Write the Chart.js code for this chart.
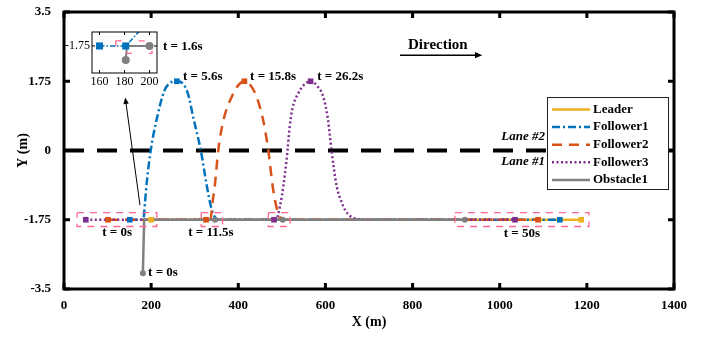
<!DOCTYPE html>
<html>
<head>
<meta charset="utf-8">
<script src="https://cdn.jsdelivr.net/npm/chart.js@4.4.1/dist/chart.umd.min.js"></script>
<style>
html, body { margin: 0; padding: 0; background: #fff; }
#wrap { position: relative; width: 707px; height: 337px; }
#main { position: absolute; left: 0; top: 0; }
#inset { position: absolute; left: 62px; top: 26px; }
</style>
</head>
<body>
<div id="wrap">
  <canvas id="main" width="707" height="337"></canvas>
  <canvas id="inset" width="100" height="62"></canvas>
</div>
<script>
const xTicks = [0, 200, 400, 600, 800, 1000, 1200, 1400];
const yTicks = [-3.5, -1.75, 0, 1.75, 3.5];

// trajectories (m)
const leaderX = [200, 1187];
const leaderY = [-1.75, -1.75];
const follower1X = [151, 182, 186, 190, 199, 213, 230, 245, 259, 272, 284, 298, 314, 328, 338, 346, 356, 1138];
const follower1Y = [-1.75, -1.75, -1.3, -0.8, 0, 0.8, 1.5, 1.72, 1.75, 1.7, 1.45, 0.77, 0, -0.91, -1.45, -1.68, -1.75, -1.75];
const follower2X = [101, 336, 341, 346, 354, 366, 385, 398, 414, 428, 442, 457, 469, 479, 487, 494, 503, 1088];
const follower2Y = [-1.75, -1.75, -1.3, -0.9, 0, 0.77, 1.36, 1.62, 1.75, 1.65, 1.36, 0.77, 0, -0.91, -1.4, -1.65, -1.75, -1.75];
const follower3X = [50, 488, 492, 500, 507, 513, 518, 524, 538, 550, 566, 582, 595, 606, 614, 626, 637, 645, 656, 670, 690, 1035];
const follower3Y = [-1.75, -1.75, -1.59, -1.15, -0.6, 0, 0.6, 1.05, 1.45, 1.65, 1.75, 1.62, 1.36, 0.77, 0, -0.91, -1.3, -1.5, -1.65, -1.72, -1.75, -1.75];
const obstacleX = [181, 184, 920];
const obstacleY = [-3.1, -1.75, -1.75];
const laneX = [0, 1400];
const laneY = [0, 0];

// snapshot markers
const leaderSnapX = [200, 1187];
const leaderSnapY = [-1.75, -1.75];
const follower1SnapX = [151, 259, 1138];
const follower1SnapY = [-1.75, 1.75, -1.75];
const follower2SnapX = [101, 326, 414, 1088];
const follower2SnapY = [-1.75, -1.75, 1.75, -1.75];
const follower3SnapX = [50, 482, 566, 1035];
const follower3SnapY = [-1.75, -1.75, 1.75, -1.75];
const obstacleSnapX = [181, 347, 502, 920];
const obstacleSnapY = [-3.1, -1.75, -1.75, -1.75];

// highlight boxes
const boxLeft = [30, 315, 469, 897];
const boxRight = [213, 364, 519, 1205];
const boxTop = [-1.57, -1.57, -1.57, -1.57];
const boxBottom = [-1.92, -1.92, -1.92, -1.92];

// inset (t = 1.6s)
const insetXTicks = [160, 180, 200];
const insetYTicks = [-1.75];
const insetBlueX = [160, 181, 194];
const insetBlueY = [-1.75, -1.75, -1.56];
const insetGrayX = [181, 182, 200];
const insetGrayY = [-1.9, -1.75, -1.75];
const insetSquareX = [160, 181];
const insetSquareY = [-1.75, -1.75];
const insetCircleX = [181, 200];
const insetCircleY = [-1.9, -1.75];
const insetBoxX = [173, 202];
const insetBoxY = [-1.695, -1.83];

const C_LEADER = '#EDB120', C_F1 = '#0072BD', C_F2 = '#D95319', C_F3 = '#7E2F8E', C_OBS = '#808080';
const C_BOX = 'rgb(255,105,140)';
const SERIF = '"Liberation Serif", "Times New Roman", serif';

const pts = (xs, ys) => xs.map((x, i) => ({ x: x, y: ys[i] }));
const rect = (l, r, t, b) => [{ x: l, y: t }, { x: r, y: t }, { x: r, y: b }, { x: l, y: b }, { x: l, y: t }];

function trace(label, xs, ys, color, dash, order, smooth) {
    return {
        label: label, legend: true,
        data: pts(xs, ys),
        borderColor: color, borderWidth: 2.5, borderDash: dash,
        pointRadius: 0, fill: false, order: order,
        cubicInterpolationMode: smooth ? 'monotone' : 'default', tension: 0
    };
}
function snaps(xs, ys, color, style, r) {
    return {
        data: pts(xs, ys), showLine: false,
        pointStyle: style, pointRadius: r, pointBackgroundColor: color, pointBorderColor: color,
        pointBorderWidth: 0, order: 0
    };
}

const mainDatasets = [
    { data: pts(laneX, laneY), borderColor: '#000', borderWidth: 4, borderDash: [20, 13], pointRadius: 0, order: 20 },
    trace('Leader', leaderX, leaderY, C_LEADER, [], 10, false),
    trace('Follower1', follower1X, follower1Y, C_F1, [8, 3, 2, 3], 9, true),
    trace('Follower2', follower2X, follower2Y, C_F2, [10, 7], 8, true),
    trace('Follower3', follower3X, follower3Y, C_F3, [2, 2.5], 7, true),
    trace('Obstacle1', obstacleX, obstacleY, C_OBS, [], 6, false)
];
boxLeft.forEach((l, i) => {
    mainDatasets.push({
        data: rect(l, boxRight[i], boxTop[i], boxBottom[i]),
        borderColor: C_BOX, borderWidth: 1.3, borderDash: [7, 6], pointRadius: 0, order: 5
    });
});
mainDatasets.push(
    snaps(leaderSnapX, leaderSnapY, C_LEADER, 'rect', 4),
    snaps(follower1SnapX, follower1SnapY, C_F1, 'rect', 4),
    snaps(follower2SnapX, follower2SnapY, C_F2, 'rect', 4),
    snaps(follower3SnapX, follower3SnapY, C_F3, 'rect', 4),
    snaps(obstacleSnapX, obstacleSnapY, C_OBS, 'circle', 3)
);

function arrow(ctx, x1, y1, x2, y2, head, width) {
    const ang = Math.atan2(y2 - y1, x2 - x1);
    ctx.beginPath();
    ctx.lineWidth = width;
    ctx.moveTo(x1, y1);
    ctx.lineTo(x2 - Math.cos(ang) * head * 0.8, y2 - Math.sin(ang) * head * 0.8);
    ctx.stroke();
    ctx.beginPath();
    ctx.moveTo(x2, y2);
    ctx.lineTo(x2 - head * Math.cos(ang - 0.4), y2 - head * Math.sin(ang - 0.4));
    ctx.lineTo(x2 - head * Math.cos(ang + 0.4), y2 - head * Math.sin(ang + 0.4));
    ctx.closePath();
    ctx.fill();
}

function frame(ctx, a, xs, ys, xt, yt, lw, tl) {
    ctx.save();
    ctx.strokeStyle = '#000';
    ctx.lineWidth = lw;
    ctx.strokeRect(a.left, a.top, a.right - a.left, a.bottom - a.top);
    ctx.beginPath();
    xt.forEach(v => {
        const px = xs.getPixelForValue(v);
        ctx.moveTo(px, a.bottom); ctx.lineTo(px, a.bottom - tl);
        ctx.moveTo(px, a.top); ctx.lineTo(px, a.top + tl);
    });
    yt.forEach(v => {
        const py = ys.getPixelForValue(v);
        ctx.moveTo(a.left, py); ctx.lineTo(a.left + tl, py);
        ctx.moveTo(a.right, py); ctx.lineTo(a.right - tl, py);
    });
    ctx.stroke();
    ctx.restore();
}

const mainDecor = {
    id: 'mainDecor',
    afterDraw(chart) {
        const { ctx, chartArea: a, scales: { x, y } } = chart;
        frame(ctx, a, x, y, xTicks, yTicks, 3, 6);
        ctx.save();
        ctx.fillStyle = '#000';
        ctx.strokeStyle = '#000';
        ctx.font = 'bold 13px ' + SERIF;
        ctx.textBaseline = 'middle';
        const txt = (s, vx, vy, align) => { ctx.textAlign = align; ctx.fillText(s, x.getPixelForValue(vx), y.getPixelForValue(vy)); };
        txt('t = 0s', 122, -2.08, 'center');
        txt('t = 11.5s', 337, -2.08, 'center');
        txt('t = 50s', 1051, -2.1, 'center');
        txt('t = 0s', 193, -3.09, 'left');
        txt('t = 5.6s', 273, 1.86, 'left');
        txt('t = 15.8s', 427, 1.86, 'left');
        txt('t = 26.2s', 581, 1.86, 'left');
        txt('t = 1.6s', 227, 2.62, 'left');
        ctx.font = 'bold 15px ' + SERIF;
        txt('Direction', 858, 2.66, 'center');
        ctx.font = 'italic bold 13px ' + SERIF;
        txt('Lane #2', 1104, 0.34, 'right');
        txt('Lane #1', 1104, -0.29, 'right');
        // arrows
        arrow(ctx, x.getPixelForValue(771), y.getPixelForValue(2.41), x.getPixelForValue(960), y.getPixelForValue(2.41), 8, 1.5);
        arrow(ctx, x.getPixelForValue(174.4), y.getPixelForValue(-1.38), x.getPixelForValue(140.5), y.getPixelForValue(1.34), 7, 1);

        // legend
        const lx = a.right - 127, ly = a.top + 85, lw = 121, lh = 92;
        ctx.fillStyle = '#fff';
        ctx.fillRect(lx, ly, lw, lh);
        ctx.lineWidth = 1;
        ctx.strokeStyle = '#222';
        ctx.strokeRect(lx + 0.5, ly + 0.5, lw, lh);
        ctx.font = 'bold 13px ' + SERIF;
        ctx.textAlign = 'left';
        let row = 0;
        chart.data.datasets.forEach(ds => {
            if (!ds.legend) return;
            const ry = ly + 12.5 + row * 17.6;
            ctx.beginPath();
            ctx.strokeStyle = ds.borderColor;
            ctx.lineWidth = ds.borderWidth;
            ctx.setLineDash(ds.borderDash);
            ctx.moveTo(lx + 5, ry);
            ctx.lineTo(lx + 43, ry);
            ctx.stroke();
            ctx.setLineDash([]);
            ctx.fillStyle = '#000';
            ctx.fillText(ds.label, lx + 46, ry);
            row++;
        });
        ctx.restore();
    }
};

const plainLabel = v => String(v);

new Chart(document.getElementById('main').getContext('2d'), {
    type: 'line',
    data: { datasets: mainDatasets },
    options: {
        responsive: false,
        animation: false,
        layout: { padding: { left: 0, right: 33, top: 12, bottom: 0 } },
        plugins: { legend: { display: false }, tooltip: { enabled: false } },
        scales: {
            x: {
                type: 'linear', min: 0, max: 1400,
                afterBuildTicks: s => { s.ticks = xTicks.map(v => ({ value: v })); },
                afterFit: s => { s.height = 48; s.paddingLeft = 0; s.paddingRight = 0; },
                grid: { display: false, drawTicks: false, tickLength: 0 },
                border: { display: false },
                ticks: { color: '#000', padding: 9, maxRotation: 0, autoSkip: false, callback: plainLabel, font: { family: SERIF, size: 13, weight: 'bold' } },
                title: { display: true, text: 'X (m)', color: '#000', padding: { top: 0, bottom: 6 }, font: { family: SERIF, size: 14, weight: 'bold' } }
            },
            y: {
                type: 'linear', min: -3.5, max: 3.5,
                afterBuildTicks: s => { s.ticks = yTicks.map(v => ({ value: v })); },
                afterFit: s => { s.width = 64; s.paddingTop = 0; s.paddingBottom = 0; },
                grid: { display: false, drawTicks: false, tickLength: 0 },
                border: { display: false },
                ticks: { color: '#000', padding: 13, autoSkip: false, callback: plainLabel, font: { family: SERIF, size: 13, weight: 'bold' } },
                title: { display: true, text: 'Y (m)', color: '#000', padding: { top: 15, bottom: 0 }, font: { family: SERIF, size: 14, weight: 'bold' } }
            }
        }
    },
    plugins: [mainDecor]
});

// inset
const insetBg = {
    id: 'insetBg',
    beforeDatasetsDraw(chart) {
        const { ctx, chartArea: a } = chart;
        ctx.save();
        ctx.fillStyle = '#fff';
        ctx.fillRect(a.left, a.top, a.right - a.left, a.bottom - a.top);
        ctx.restore();
    },
    afterDraw(chart) {
        const { ctx, chartArea: a, scales: { x, y } } = chart;
        frame(ctx, a, x, y, insetXTicks, insetYTicks, 1, 3);
    }
};

new Chart(document.getElementById('inset').getContext('2d'), {
    type: 'line',
    data: {
        datasets: [
            { data: pts(insetGrayX, insetGrayY), borderColor: C_OBS, borderWidth: 2, pointRadius: 0, order: 3 },
            { data: pts(insetBlueX, insetBlueY), borderColor: C_F1, borderWidth: 1.5, borderDash: [5, 2, 1.5, 2], pointRadius: 0, order: 4 },
            { data: rect(insetBoxX[0], insetBoxX[1], insetBoxY[0], insetBoxY[1]), borderColor: C_BOX, borderWidth: 1.3, borderDash: [6, 17], pointRadius: 0, order: 2 },
            snaps(insetSquareX, insetSquareY, C_F1, 'rect', 5),
            snaps(insetCircleX, insetCircleY, C_OBS, 'circle', 4)
        ]
    },
    options: {
        responsive: false,
        animation: false,
        layout: { padding: { left: 0, right: 5, top: 6, bottom: 0 } },
        plugins: { legend: { display: false }, tooltip: { enabled: false } },
        scales: {
            x: {
                type: 'linear', min: 154, max: 206,
                afterBuildTicks: s => { s.ticks = insetXTicks.map(v => ({ value: v })); },
                afterFit: s => { s.height = 15; s.paddingLeft = 0; s.paddingRight = 0; },
                grid: { display: false, drawTicks: false, tickLength: 0 },
                border: { display: false },
                ticks: { color: '#000', padding: 2, maxRotation: 0, autoSkip: false, callback: plainLabel, font: { family: SERIF, size: 12 } }
            },
            y: {
                type: 'linear', min: -2.04, max: -1.6,
                afterBuildTicks: s => { s.ticks = insetYTicks.map(v => ({ value: v })); },
                afterFit: s => { s.width = 30; s.paddingTop = 0; s.paddingBottom = 0; },
                grid: { display: false, drawTicks: false, tickLength: 0 },
                border: { display: false },
                ticks: { color: '#000', padding: 2, autoSkip: false, callback: plainLabel, font: { family: SERIF, size: 12 } }
            }
        }
    },
    plugins: [insetBg]
});
</script>
</body>
</html>
